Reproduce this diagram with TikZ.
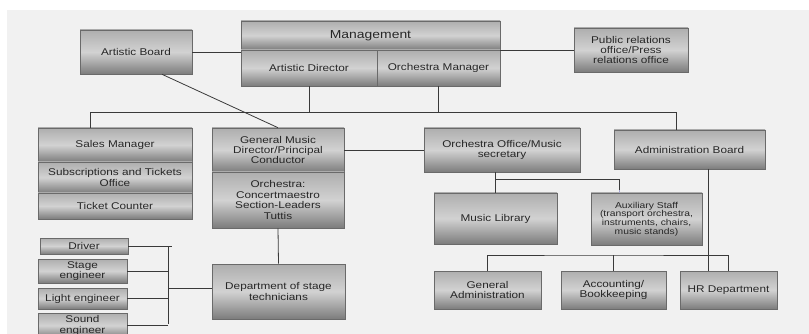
\documentclass[tikz,border=0pt]{standalone}
\usepackage{fontspec}
\setmainfont{Liberation Sans}[FakeStretch=1.2]
\usetikzlibrary{calc}
\definecolor{bg}{HTML}{F1F1F1}
\definecolor{boxtop}{HTML}{AEAEAE}
\definecolor{boxmid}{HTML}{D2D2D2}
\definecolor{boxbot}{HTML}{7C7C7C}
\definecolor{boxline}{HTML}{6A6A6A}
\definecolor{lineclr}{HTML}{3A3A3A}
\definecolor{lav}{HTML}{A8A8D0}
\definecolor{txt}{HTML}{262626}
\tikzset{
  box/.style={draw=boxline, line width=0.6pt, top color=boxtop, bottom color=boxbot, middle color=boxmid,
    align=center, text=txt, inner sep=1pt, font=\fontsize{9.8}{10.4}\selectfont},
  conn/.style={draw=lineclr, line width=0.8pt},
}
\begin{document}
\begin{tikzpicture}[x=1pt,y=-1pt]
\useasboundingbox (0,0) rectangle (809,334);
\clip (0,0) rectangle (809,334);
\fill[white] (0,0) rectangle (809,334);
\fill[bg] (7,10) rectangle (809,334);

% top
\node[box, minimum width=112pt, minimum height=44pt] (artboard) at (136,52) {Artistic Board};
\node[box, minimum width=259pt, minimum height=29pt, font=\fontsize{11.6}{12}\selectfont] (mgmt) at (370.5,35.5) {Management};
\node[box, minimum width=136pt, minimum height=36pt] (ad) at (309,68) {Artistic Director};
\node[box, minimum width=123pt, minimum height=36pt] (om) at (438.5,68) {Orchestra Manager};
\node[box, minimum width=114pt, minimum height=44pt] (pr) at (631,50) {Public relations\\office/Press\\relations office};

% second row
\node[box, minimum width=154pt, minimum height=34pt] (sales) at (115,145) {Sales Manager};
\node[box, minimum width=154pt, minimum height=31pt] (subs) at (115,177.5) {Subscriptions and Tickets\\Office};
\node[box, minimum width=154pt, minimum height=26pt] (ticket) at (115,206) {Ticket Counter};
\node[box, minimum width=132pt, minimum height=44pt] (gmd) at (278,150) {General Music\\Director/Principal\\Conductor};
\node[box, minimum width=132pt, minimum height=56pt] (orch) at (278,200) {Orchestra:\\Concertmaestro\\Section-Leaders\\Tuttis};
\node[box, minimum width=156pt, minimum height=44pt] (oo) at (502,150) {Orchestra Office/Music\\secretary};
\node[box, minimum width=151pt, minimum height=39pt] (admin) at (689.5,149.5) {Administration Board};
\node[box, minimum width=123pt, minimum height=51pt] (lib) at (495.5,218.5) {Music Library};
\node[box, minimum width=111pt, minimum height=52pt, font=\fontsize{8.6}{8.7}\selectfont] (aux) at (646.5,219) {Auxiliary Staff\\(transport orchestra,\\instruments, chairs,\\music stands)};

% bottom
\node[box, minimum width=107pt, minimum height=38pt] (genadm) at (487.5,290) {General\\Administration};
\node[box, minimum width=105pt, minimum height=38pt] (acct) at (613.5,290) {Accounting/\\Bookkeeping};
\node[box, minimum width=97pt, minimum height=38pt] (hr) at (728.5,290) {HR Department};
\node[box, minimum width=133pt, minimum height=55pt] (dept) at (278.5,291.5) {Department of stage\\technicians};
\node[box, minimum width=88pt, minimum height=16pt] (driver) at (84,246) {Driver};
\node[box, minimum width=89pt, minimum height=24pt] (stage) at (82.5,271) {Stage\\engineer};
\node[box, minimum width=89pt, minimum height=21pt] (light) at (82.5,298.5) {Light engineer};
\node[box, minimum width=89pt, minimum height=25pt] (sound) at (82.5,325.5) {Sound\\engineer};

% coordinates
\coordinate (b1) at (90,112);
\coordinate (b2) at (676,112);
\coordinate (j) at (495.5,179);
\coordinate (auxtop) at (619,193);
\coordinate (admdrop) at (708,169);
\coordinate (hrtop) at (708,271);
\coordinate (bus) at (600,255);
\coordinate (brk) at (168,288);
\coordinate (deptin) at (212,288);

% connectors
\draw[conn] (artboard.east) -- (artboard.east -| mgmt.west);
\draw[conn] (pr.west) -- (pr.west -| mgmt.east);
\draw[conn] ($(artboard.south)+(26,0)$) -- (gmd.north);
\draw[conn] (ad.south) -- (ad.south |- b1);
\draw[conn] (om.south) -- (om.south |- b1);
\draw[conn] (sales.north -| b1) -- (b1) -- (b2) -- (b2 |- admin.north);
\draw[conn] (gmd.east) -- (oo.west);
\draw[conn] (lib.north |- oo.south) -- (lib.north);
\draw[conn] (j) -| ($(auxtop)+(0,-3)$);
\draw[draw=lav, line width=0.8pt] ($(auxtop)+(0,-3)$) -- (auxtop);
\draw[conn] (admdrop) -- (hrtop);
\draw[conn] (genadm.north) |- (bus) -| (hr.north);
\draw[conn] (acct.north) -- (acct.north |- bus);
\draw[conn] (orch.south) -- (dept.north);
\draw[conn] (driver.east) -- ++(44,0);
\draw[conn] (brk |- driver.east) -- (168,324);
\draw[conn] (stage.east) -- (stage.east -| brk);
\draw[conn] (light.east) -- (light.east -| brk);
\draw[conn] (sound.east) -- (sound.east -| brk);
\draw[conn] (brk) -- (deptin);
\end{tikzpicture}
\end{document}
